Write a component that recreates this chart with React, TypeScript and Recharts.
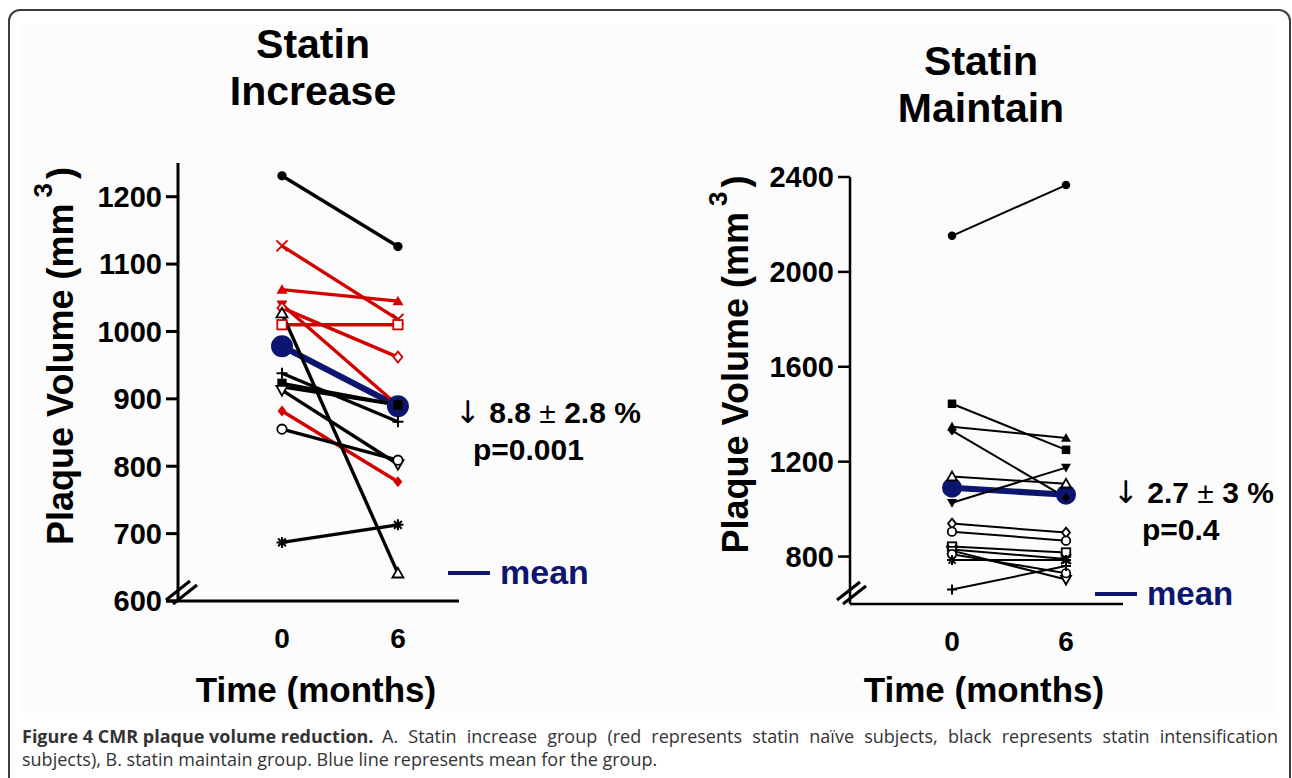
import React from "react";
import { LineChart, Line, XAxis, YAxis, Legend, Label } from "recharts";

const MONTHS = [0, 6];
const MONTH_TICKS = [0, 6];

// A. statin increase group (red = statin naive, black = intensification)
const INCREASE_BASELINE = [1231, 1127, 1062, 1040, 1035, 1010, 882, 1027, 938, 923, 918, 913, 855, 687];
const INCREASE_SIX_MONTHS = [1126, 1018, 1045, 890, 962, 1010, 777, 641, 866, 891, 891, 803, 809, 713];
const INCREASE_NAIVE = [false, true, true, true, true, true, true, false, false, false, false, false, false, false];
const INCREASE_SHAPES = [
  "circle", "cross", "triUp", "triDown", "diamondOpen", "squareOpen", "diamond",
  "triUpOpen", "plus", "square", "diamond", "triDownOpen", "circleOpen", "star",
];
const INCREASE_MEAN = [978, 889];
const INCREASE_TICKS = [600, 700, 800, 900, 1000, 1100, 1200];

// B. statin maintain group
const MAINTAIN_BASELINE = [2152, 1444, 1347, 1331, 1027, 1137, 939, 905, 842, 830, 825, 810, 785, 661];
const MAINTAIN_SIX_MONTHS = [2366, 1250, 1300, 1048, 1175, 1107, 901, 867, 817, 790, 703, 730, 785, 760];
const MAINTAIN_SHAPES = [
  "circle", "square", "triUp", "diamond", "triDown", "triUpOpen", "diamondOpen",
  "circleOpen", "squareOpen", "cross", "triDownOpen", "circleOpen", "star", "plus",
];
const MAINTAIN_MEAN = [1090, 1061];
const MAINTAIN_TICKS = [800, 1200, 1600, 2000, 2400];

const RED = "#d40000";
const NAVY = "#0c1670";
const FONT = '"Liberation Sans", Arial, sans-serif';
const CAPTION_FONT = '"Open Sans", sans-serif';

function buildRows(start: number[], end: number[], mean: number[]) {
  return MONTHS.map((m, i) => {
    const row: Record<string, number> = { month: m, mean: mean[i] };
    start.forEach((v, k) => {
      row[`s${k}`] = i === 0 ? v : end[k];
    });
    return row;
  });
}

function Marker({ cx, cy, shape, color, size }: any) {
  if (cx == null || cy == null) return null;
  const h = size / 2;
  const open = shape.endsWith("Open");
  const fill = open ? "#fff" : color;
  const sw = open ? 1.8 : 0;
  switch (shape.replace("Open", "")) {
    case "circle":
      return <circle cx={cx} cy={cy} r={h * 0.85} fill={fill} stroke={color} strokeWidth={sw} />;
    case "square":
      return <rect x={cx - h * 0.85} y={cy - h * 0.85} width={size * 0.85} height={size * 0.85} fill={fill} stroke={color} strokeWidth={sw} />;
    case "triUp":
      return <polygon points={`${cx},${cy - h} ${cx + h},${cy + h * 0.75} ${cx - h},${cy + h * 0.75}`} fill={fill} stroke={color} strokeWidth={sw} />;
    case "triDown":
      return <polygon points={`${cx},${cy + h} ${cx + h},${cy - h * 0.75} ${cx - h},${cy - h * 0.75}`} fill={fill} stroke={color} strokeWidth={sw} />;
    case "diamond":
      return <polygon points={`${cx},${cy - h} ${cx + h * 0.8},${cy} ${cx},${cy + h} ${cx - h * 0.8},${cy}`} fill={fill} stroke={color} strokeWidth={sw} />;
    case "cross":
      return <path d={`M${cx - h},${cy - h}L${cx + h},${cy + h}M${cx + h},${cy - h}L${cx - h},${cy + h}`} stroke={color} strokeWidth={2} />;
    case "plus":
      return <path d={`M${cx - h},${cy}L${cx + h},${cy}M${cx},${cy - h}L${cx},${cy + h}`} stroke={color} strokeWidth={2} />;
    default:
      return (
        <path
          d={`M${cx - h},${cy}L${cx + h},${cy}M${cx},${cy - h}L${cx},${cy + h}M${cx - h * 0.7},${cy - h * 0.7}L${cx + h * 0.7},${cy + h * 0.7}M${cx + h * 0.7},${cy - h * 0.7}L${cx - h * 0.7},${cy + h * 0.7}`}
          stroke={color}
          strokeWidth={2}
        />
      );
  }
}

function YTitle({ viewBox, dx }: any) {
  const cx = viewBox.x + dx;
  const cy = viewBox.y + viewBox.height / 2 - 26;
  return (
    <text
      x={cx}
      y={cy}
      transform={`rotate(-90 ${cx} ${cy})`}
      textAnchor="middle"
      dominantBaseline="central"
      fontFamily={FONT}
      fontSize={36}
      fontWeight={700}
      fill="#000"
    >
      Plaque Volume (mm
      <tspan dx={6} dy={-17} fontSize={26}>3</tspan>
      <tspan dx={4} dy={17}>)</tspan>
    </text>
  );
}

function MeanLegend({ size }: { size: number }) {
  return (
    <div style={{ display: "flex", alignItems: "center", fontFamily: FONT, fontWeight: 700, fontSize: size, color: NAVY }}>
      <span style={{ display: "inline-block", width: 42, height: 4, background: NAVY, marginRight: 10 }} />
      mean
    </div>
  );
}

function SubjectChart(props: any) {
  const { rows, shapes, colors, yDomain, yTicks, xDomain, width, height, yAxisWidth, top, right, xAxisHeight,
    lineWidth, markerSize, meanRadius, axisWidth, legendPos, legendSize } = props;
  return (
    <LineChart width={width} height={height} data={rows} margin={{ top, right, left: 0, bottom: 0 }}>
      <XAxis
        type="number"
        dataKey="month"
        domain={xDomain}
        ticks={MONTH_TICKS}
        allowDataOverflow
        height={xAxisHeight}
        tickLine={false}
        tickSize={0}
        tickMargin={27}
        axisLine={{ stroke: "#000", strokeWidth: axisWidth }}
        tick={{ fontFamily: FONT, fontSize: 28, fontWeight: 700, fill: "#000" }}
      />
      <YAxis
        type="number"
        domain={yDomain}
        ticks={yTicks}
        allowDataOverflow
        width={yAxisWidth}
        tickSize={12}
        tickMargin={4}
        axisLine={{ stroke: "#000", strokeWidth: axisWidth }}
        tickLine={{ stroke: "#000", strokeWidth: axisWidth }}
        tick={{ fontFamily: FONT, fontSize: 29, fontWeight: 700, fill: "#000" }}
      >
        <Label content={(p: any) => <YTitle viewBox={p.viewBox} dx={props.titleX} />} />
      </YAxis>
      <Legend
        layout="horizontal"
        verticalAlign="middle"
        align="center"
        wrapperStyle={{ left: legendPos[0], top: legendPos[1], width: 160 }}
        content={() => <MeanLegend size={legendSize} />}
      />
      <Line
        dataKey="mean"
        stroke={NAVY}
        strokeWidth={6}
        dot={{ r: meanRadius, fill: NAVY, stroke: NAVY, strokeWidth: 0 }}
        isAnimationActive={false}
      />
      {shapes.map((shape: string, k: number) => (
        <Line
          key={`s${k}`}
          dataKey={`s${k}`}
          stroke={colors[k]}
          strokeWidth={lineWidth}
          isAnimationActive={false}
          dot={(p: any) => (
            <Marker key={`m${k}-${p.index}`} cx={p.cx} cy={p.cy} shape={shape} color={colors[k]} size={markerSize} />
          )}
          activeDot={false}
        />
      ))}
    </LineChart>
  );
}

const abs = (left: number, top: number, extra: React.CSSProperties = {}): React.CSSProperties => ({
  position: "absolute",
  left,
  top,
  ...extra,
});

const titleStyle: React.CSSProperties = {
  fontFamily: FONT,
  fontWeight: 700,
  fontSize: 41,
  lineHeight: "47px",
  textAlign: "center",
  width: 300,
  color: "#000",
};

const bigText: React.CSSProperties = {
  fontFamily: FONT,
  fontWeight: 700,
  fontSize: 35,
  lineHeight: "40px",
  textAlign: "center",
  width: 320,
  color: "#000",
};

const annot: React.CSSProperties = {
  fontFamily: FONT,
  fontWeight: 700,
  fontSize: 30,
  lineHeight: "36px",
  whiteSpace: "nowrap",
  color: "#000",
};

const arrow: React.CSSProperties = {
  fontFamily: '"DejaVu Sans", sans-serif',
  fontWeight: 400,
  fontSize: 31,
};

export default function App() {
  const increaseRows = buildRows(INCREASE_BASELINE, INCREASE_SIX_MONTHS, INCREASE_MEAN);
  const maintainRows = buildRows(MAINTAIN_BASELINE, MAINTAIN_SIX_MONTHS, MAINTAIN_MEAN);
  const increaseColors = INCREASE_NAIVE.map((n) => (n ? RED : "#000"));
  const maintainColors = MAINTAIN_SHAPES.map(() => "#000");

  return (
    <div style={{ position: "absolute", left: 0, top: 0, width: 1292, height: 778, overflow: "hidden", background: "#fff" }}>
      <div style={abs(8, 9, { width: 1283, height: 820, border: "2px solid #3c3c3c", borderRadius: 12, boxSizing: "border-box" })} />
      <div style={abs(22, 25, { width: 1255, height: 688, background: "#fcfcfc" })} />

      <div style={abs(163, 21, titleStyle)}>Statin<br />Increase</div>
      <div style={abs(831, 38, titleStyle)}>Statin<br />Maintain</div>

      <div style={abs(0, 0)}>
        <SubjectChart
          rows={increaseRows}
          shapes={INCREASE_SHAPES}
          colors={increaseColors}
          yDomain={[600, 1250]}
          yTicks={INCREASE_TICKS}
          xDomain={[-5.38, 9.16]}
          width={620}
          height={660}
          yAxisWidth={178}
          top={163}
          right={161}
          xAxisHeight={59}
          lineWidth={3.4}
          markerSize={11}
          meanRadius={11}
          axisWidth={3}
          titleX={60}
          legendPos={[448, 553]}
          legendSize={34}
        />
      </div>

      <div style={abs(600, 0)}>
        <SubjectChart
          rows={maintainRows}
          shapes={MAINTAIN_SHAPES}
          colors={maintainColors}
          yDomain={[600, 2400]}
          yTicks={MAINTAIN_TICKS}
          xDomain={[-5.37, 9.0]}
          width={660}
          height={660}
          yAxisWidth={250}
          top={177}
          right={137}
          xAxisHeight={56}
          lineWidth={2}
          markerSize={10}
          meanRadius={10}
          axisWidth={2.5}
          titleX={135}
          legendPos={[495, 575]}
          legendSize={33}
        />
      </div>

      <svg style={abs(0, 0, { pointerEvents: "none" })} width={1292} height={778}>
        <g stroke="#000" strokeWidth={3}>
          <line x1={166} y1={601} x2={178} y2={601} />
          <line x1={166} y1={600} x2={190} y2={581} />
          <line x1={173} y1={604} x2={197} y2={585} />
          <line x1={837} y1={600} x2={860} y2={582} />
          <line x1={843} y1={604} x2={866} y2={586} />
        </g>
      </svg>

      <div style={abs(156, 670, bigText)}>Time (months)</div>
      <div style={abs(824, 670, bigText)}>Time (months)</div>

      <div style={abs(455, 394, annot)}>
        <span style={arrow}>↓</span> 8.8 <span style={{ fontWeight: 400 }}>±</span> 2.8 %
      </div>
      <div style={abs(473, 432, annot)}>p=0.001</div>
      <div style={abs(1113, 474, annot)}>
        <span style={arrow}>↓</span> 2.7 <span style={{ fontWeight: 400 }}>±</span> 3 %
      </div>
      <div style={abs(1142, 512, annot)}>p=0.4</div>

      <div
        style={abs(22, 725, {
          fontFamily: CAPTION_FONT,
          fontSize: 18,
          fontWeight: 700,
          lineHeight: "23px",
          whiteSpace: "nowrap",
          color: "#333",
        })}
      >
        Figure 4 CMR plaque volume reduction.
      </div>
      <div
        style={abs(22, 725, {
          width: 1256,
          fontFamily: CAPTION_FONT,
          fontSize: 18,
          lineHeight: "23px",
          textAlign: "justify",
          textIndent: 360,
          color: "#333",
        })}
      >
        A. Statin increase group (red represents statin naïve subjects, black represents statin intensification
        subjects), B. statin maintain group. Blue line represents mean for the group.
      </div>
    </div>
  );
}
